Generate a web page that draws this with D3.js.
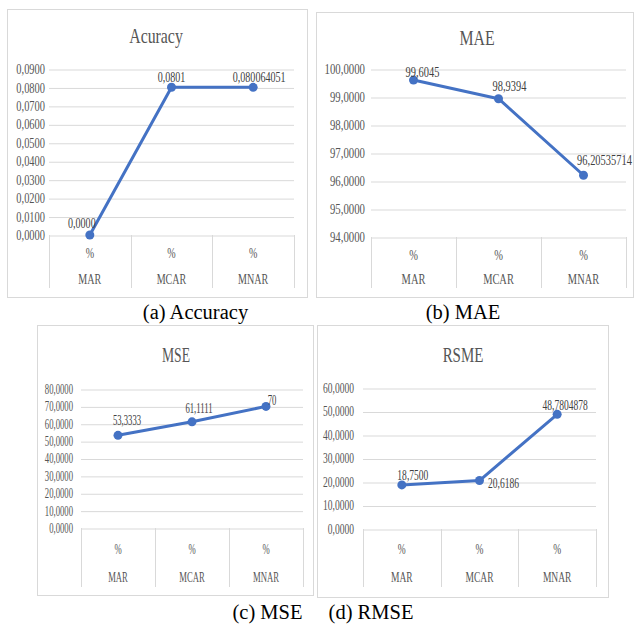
<!DOCTYPE html>
<html>
<head>
<meta charset="utf-8">
<script src="https://cdn.jsdelivr.net/npm/d3@7"></script>
<style>
  body { margin: 0; background: #fff; }
  svg { display: block; }
</style>
</head>
<body>
<svg id="fig" width="634" height="625"></svg>
<script>
// ---- data ----
const categories = ["MAR", "MCAR", "MNAR"];
const categoryPrefix = "%";

const accuracyValues = [0, 0.0801, 0.080064051];
const accuracyDecimals = [4, 4, 9];
const accuracyTicks = [0, 0.01, 0.02, 0.03, 0.04, 0.05, 0.06, 0.07, 0.08, 0.09];

const maeValues = [99.6045, 98.9394, 96.20535714];
const maeDecimals = [4, 4, 8];
const maeTicks = [94, 95, 96, 97, 98, 99, 100];

const mseValues = [53.3333, 61.1111, 70];
const mseDecimals = [4, 4, 0];
const mseTicks = [0, 10, 20, 30, 40, 50, 60, 70, 80];

const rmseValues = [18.75, 20.6186, 48.7804878];
const rmseDecimals = [4, 4, 7];
const rmseTicks = [0, 10, 20, 30, 40, 50, 60];

const chartTitles = ["Acuracy", "MAE", "MSE", "RSME"];
const captions = ["(a) Accuracy", "(b) MAE", "(c) MSE", "(d) RMSE"];

// ---- number formatting with decimal comma ----
const locale = d3.formatLocale({ decimal: ",", thousands: ".", grouping: [3], currency: ["", ""] });
const tickFmt = locale.format(".4f");
const valueFmt = (v, d) => locale.format("." + d + "f")(v);

const FONT = '"Liberation Serif", Tinos, "Times New Roman", serif';

// ---- panel layout ----
const panels = [
  { title: chartTitles[0], values: accuracyValues, decimals: accuracyDecimals, ticks: accuracyTicks,
    frame: [7, 9, 300, 288], x0: 49, x1: 294, yTop: 69, yBot: 235, bandBot: 288,
    titleX: 156, titleY: 43, sx: 0.72, font: 14, tickFont: 14.5, pad: 4,
    labelOffsets: [[-8, -12], [0, -10], [6, -10]] },
  { title: chartTitles[1], values: maeValues, decimals: maeDecimals, ticks: maeTicks,
    frame: [316, 12, 317, 285], x0: 371, x1: 626, yTop: 69, yBot: 237, bandBot: 288,
    titleX: 477, titleY: 45, sx: 0.72, font: 14.5, tickFont: 15, pad: 6,
    labelOffsets: [[9, -8], [11, -13], [21, -15]] },
  { title: chartTitles[2], values: mseValues, decimals: mseDecimals, ticks: mseTicks,
    frame: [37, 325, 276, 270], x0: 81, x1: 303, yTop: 389, yBot: 528, bandBot: 587,
    titleX: 176, titleY: 362, sx: 0.62, font: 14, tickFont: 14, pad: 8,
    labelOffsets: [[9, -15], [7, -14], [6, -6]] },
  { title: chartTitles[3], values: rmseValues, decimals: rmseDecimals, ticks: rmseTicks,
    frame: [317, 325, 291, 272], x0: 363, x1: 596, yTop: 388, yBot: 529, bandBot: 587,
    titleX: 463, titleY: 362, sx: 0.68, font: 14, tickFont: 14, pad: 9,
    labelOffsets: [[11, -10], [24, 3], [8, -9]] }
];

const svg = d3.select("#fig");
const GRID = "#d9d9d9";
const TEXT = "#555555";
const LINE = "#4472c4";

// Horizontally condensed text, anchored at (x, y)
function ctext(g, x, y, str, size, sx, anchor = "middle", fill = TEXT) {
  return g.append("text")
    .attr("transform", `translate(${x},${y}) scale(${sx},1)`)
    .attr("text-anchor", anchor)
    .style("font-family", FONT)
    .attr("font-size", size)
    .attr("fill", fill)
    .text(str);
}

panels.forEach(p => {
  const g = svg.append("g");
  const [fx, fy, fw, fh] = p.frame;

  // outer chart border
  g.append("rect")
    .attr("x", fx + 0.5).attr("y", fy + 0.5)
    .attr("width", fw).attr("height", fh)
    .attr("fill", "#fff").attr("stroke", "#d9d9d9").attr("stroke-width", 1);

  // title
  ctext(g, p.titleX, p.titleY, p.title, 22, p.sx);

  const x = d3.scaleBand().domain(categories).range([p.x0, p.x1]).padding(0);
  const y = d3.scaleLinear()
    .domain([p.ticks[0], p.ticks[p.ticks.length - 1]])
    .range([p.yBot, p.yTop]);

  // value axis with gridlines
  const ax = g.append("g")
    .attr("transform", `translate(${p.x0},0)`)
    .call(d3.axisLeft(y).tickValues(p.ticks).tickFormat(tickFmt)
      .tickSize(-(p.x1 - p.x0)).tickPadding(p.pad));
  ax.select(".domain").remove();
  ax.selectAll(".tick line").attr("stroke", GRID).attr("stroke-width", 1)
    .attr("transform", "translate(0,0.5)");
  ax.selectAll(".tick text")
    .attr("fill", TEXT)
    .attr("font-size", p.tickFont)
    .style("font-family", FONT)
    .each(function () {
      const t = d3.select(this);
      const tx = +t.attr("x");
      t.attr("x", 0).attr("transform", `translate(${tx},0) scale(${p.sx},1)`);
    });

  // category box: dividers from the baseline down
  const bounds = categories.map(c => x(c)).concat([p.x1]);
  g.append("g").selectAll("line").data(bounds).join("line")
    .attr("x1", d => Math.round(d) + 0.5).attr("x2", d => Math.round(d) + 0.5)
    .attr("y1", p.yBot).attr("y2", p.bandBot)
    .attr("stroke", GRID).attr("stroke-width", 1);

  const bandH = p.bandBot - p.yBot;
  categories.forEach(c => {
    const cx = x(c) + x.bandwidth() / 2;
    ctext(g, cx, p.yBot + bandH * 0.35 + p.font * 0.35, categoryPrefix, p.font, p.sx);
    ctext(g, cx, p.yBot + bandH * 0.83 + p.font * 0.35, c, p.font, p.sx);
  });

  // series line and markers
  const pts = p.values.map((v, i) => ({ v, c: categories[i], d: p.decimals[i], o: p.labelOffsets[i] }));
  const px = d => x(d.c) + x.bandwidth() / 2;
  g.append("path")
    .datum(pts)
    .attr("d", d3.line().x(px).y(d => y(d.v)))
    .attr("fill", "none").attr("stroke", LINE)
    .attr("stroke-width", 3).attr("stroke-linejoin", "round").attr("stroke-linecap", "round");
  g.append("g").selectAll("circle").data(pts).join("circle")
    .attr("cx", px).attr("cy", d => y(d.v)).attr("r", 4.5).attr("fill", LINE);

  // data labels
  pts.forEach(d => {
    ctext(g, px(d) + d.o[0], y(d.v) + d.o[1] + p.font * 0.35, valueFmt(d.v, d.d), p.font, p.sx, "middle", "#404040");
  });
});

// figure captions
const capPos = [[195.5, 319], [463, 319], [267.5, 619], [371, 619]];
captions.forEach((c, i) => {
  svg.append("text").attr("x", capPos[i][0]).attr("y", capPos[i][1])
    .style("font-family", FONT)
    .attr("font-size", 20.5).attr("fill", "#000")
    .attr("text-anchor", "middle").text(c);
});
</script>
</body>
</html>
